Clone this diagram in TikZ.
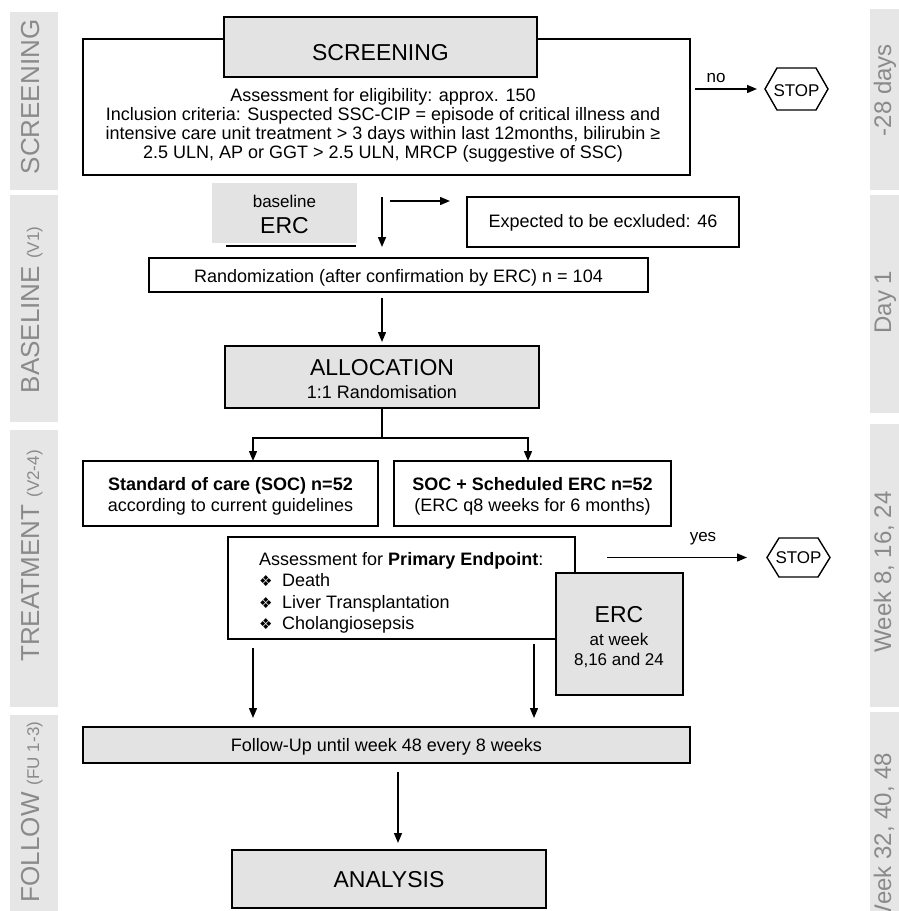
\documentclass[tikz,border=0pt]{standalone}
\usepackage{fontspec}
\setmainfont{Liberation Sans}
\newfontfamily\dejavu{DejaVu Sans}
\usetikzlibrary{arrows.meta}
\definecolor{boxgray}{HTML}{E3E3E3}
\definecolor{bandgray}{HTML}{E6E6E6}
\definecolor{labgray}{HTML}{8A8A8A}
\newcommand\bulitem{\makebox[23pt][l]{\dejavu\fontsize{15}{15}\selectfont ❖}}
\newcommand\smalllab[1]{{\fontsize{17}{17}\selectfont #1}}
\newcommand\myhexa[1]{\draw[ln] (#1.west) -- ([xshift=12pt]#1.north west) -- ([xshift=-12pt]#1.north east) -- (#1.east) -- ([xshift=-12pt]#1.south east) -- ([xshift=12pt]#1.south west) -- cycle;}
\tikzset{
  bx/.style={draw=black, line width=1.5pt, inner sep=0pt, outer sep=0pt},
  gbx/.style={bx, fill=boxgray},
  arr/.style={line width=1.4pt, -{Triangle[length=10pt,width=8pt]}},
  ln/.style={line width=1.4pt},
  blab/.style={text=labgray, rotate=90, anchor=base, inner sep=0pt, font=\fontsize{26}{30}\selectfont},
  rlab/.style={blab, font=\fontsize{24}{28}\selectfont},
  tx/.style={anchor=base, inner sep=0pt},
  f18/.style={font=\fontsize{18}{21.5}\selectfont},
  f17/.style={font=\fontsize{17}{20}\selectfont},
  f23/.style={font=\fontsize{23}{27}\selectfont},
}
\begin{document}
\begin{tikzpicture}[x=1pt,y=-1pt]
\useasboundingbox (0,0) rectangle (899,911);
\clip (0,0) rectangle (899,911);
\fill[white] (0,0) rectangle (899,911);
% side bands
\fill[bandgray] (10,12) rectangle (58,190);
\fill[bandgray] (10,195) rectangle (58,422);
\fill[bandgray] (10,430) rectangle (58,707);
\fill[bandgray] (10,715) rectangle (58,920);
\fill[bandgray] (870,9) rectangle (905,190);
\fill[bandgray] (870,195) rectangle (905,413);
\fill[bandgray] (870,424) rectangle (905,707);
\fill[bandgray] (870,712) rectangle (905,920);
\node[blab] at (39,97) {SCREENING};
\node[blab] at (39,310) {BASELINE \smalllab{(V1)}};
\node[blab] at (39,556) {TREATMENT \smalllab{(V2-4)}};
\node[blab] at (39,812) {FOLLOW \smalllab{(FU 1-3)}};
\node[rlab] at (891,90) {-28 days};
\node[rlab] at (891,302) {Day 1};
\node[rlab] at (891,572) {Week 8, 16, 24};
\node[rlab] at (891,840) {Week 32, 40, 48};
% screening
\node[bx, minimum width=607pt, minimum height=136pt] (scr) at (386.5,107) {};
\node[gbx, minimum width=313pt, minimum height=60pt] (scrt) at (380.5,47) {};
\node[tx,f23] at (380.5,60) {SCREENING};
\node[inner sep=0pt, anchor=north, align=center, font=\fontsize{18}{19}\selectfont] (scrtext) at (383,88)
  {Assessment for eligibility: approx. 150\\
   Inclusion criteria: Suspected SSC-CIP = episode of critical illness and\\
   intensive care unit treatment > 3 days within last 12months, bilirubin ≥\\
   2.5 ULN, AP or GGT > 2.5 ULN, MRCP (suggestive of SSC)};
\node[inner sep=0pt, outer sep=0pt, minimum width=63pt, minimum height=42pt] (stop1) at (796.5,89) {};
\myhexa{stop1}
\node[tx,f17] at (796.5,96) {STOP};
\node[tx,f17] at (716,82) {no};
\draw[arr, shorten <=5pt, shorten >=8pt] (scr.east |- stop1) -- (stop1.west);
% baseline
\node[fill=boxgray, inner sep=0pt, outer sep=0pt, minimum width=145pt, minimum height=60pt] (berc) at (284.5,213) {};
\node[tx,f17] at (284.5,207) {baseline};
\node[tx,f23] at (284.5,233) {ERC};
\draw[ln] ([xshift=14pt,yshift=-3pt]berc.south west) -- ([xshift=-1pt,yshift=-3pt]berc.south east);
\node[bx, minimum width=272pt, minimum height=50pt] (excl) at (603,222) {};
\node[tx,f18] at (603,227) {Expected to be ecxluded: 46};
\node[bx, minimum width=499pt, minimum height=34pt] (rand) at (398.5,275) {};
\node[tx,f18] at (398.5,282) {Randomization (after confirmation by ERC) n = 104};
\node[gbx, minimum width=314pt, minimum height=62pt] (alloc) at (382,377) {};
\node[tx,f23] at (382,375) {ALLOCATION};
\node[tx,f18] at (382,398) {1:1 Randomisation};
\coordinate (bs) at (390,201);
\draw[arr, shorten <=22pt, shorten >=11pt] (scr.south -| alloc) -- (rand.north -| alloc);
\draw[arr, shorten >=17pt] (bs) -- (bs -| excl.west);
\draw[arr, shorten <=6pt, shorten >=4pt] (rand.south -| alloc) -- (alloc.north);
% treatment
\node[bx, minimum width=295pt, minimum height=65pt] (soc) at (230.5,493.5) {};
\node[tx,f18] at (230.5,490) {\textbf{Standard of care (SOC) n=52}};
\node[tx,f18] at (230.5,511) {according to current guidelines};
\node[bx, minimum width=277pt, minimum height=65pt] (socerc) at (532.5,493.5) {};
\node[tx,f18] at (532.5,490) {\textbf{SOC + Scheduled ERC n=52}};
\node[tx,f18] at (532.5,511) {(ERC q8 weeks for 6 months)};
\coordinate (split) at (382,438);
\coordinate (sl) at (253,438);
\coordinate (sr) at (528,438);
\draw[ln] (alloc.south) -- (split);
\draw[arr] (split) -| (sl |- soc.north);
\draw[arr] (split) -| (sr |- socerc.north);
\node[bx, minimum width=347pt, minimum height=102pt] (assess) at (401.5,588) {};
\node[inner sep=0pt, anchor=north west, align=left, font=\fontsize{18}{21.5}\selectfont] (asstext) at (259,552)
  {Assessment for \textbf{Primary Endpoint}:\\
   \bulitem Death\\
   \bulitem Liver Transplantation\\
   \bulitem Cholangiosepsis};
\node[gbx, minimum width=127pt, minimum height=122pt] (ercw) at (619.5,634) {};
\node[tx,f23] at (619,622) {ERC};
\node[tx,f17] at (619,645) {at week};
\node[tx,f17] at (619,665) {8,16 and 24};
\node[inner sep=0pt, outer sep=0pt, minimum width=63pt, minimum height=39pt] (stop2) at (798.5,557.5) {};
\myhexa{stop2}
\node[tx,f17] at (798.5,563) {STOP};
\node[tx,f17] at (703,541) {yes};
\draw[arr, shorten <=32pt, shorten >=20pt] (assess.east |- stop2) -- (stop2.west);
% follow
\node[gbx, minimum width=607pt, minimum height=36pt] (fu) at (386.5,745) {};
\node[tx,f18] at (386.5,751) {Follow-Up until week 48 every 8 weeks};
\node[gbx, minimum width=314pt, minimum height=58pt] (ana) at (389,879) {};
\node[tx,f23] at (389,887) {ANALYSIS};
\coordinate (al) at (253,700);
\coordinate (ar) at (534,700);
\coordinate (fa) at (398,800);
\draw[arr, shorten <=9pt, shorten >=9pt] (assess.south -| al) -- (fu.north -| al);
\draw[arr, shorten <=5pt, shorten >=9pt] (assess.south -| ar) -- (fu.north -| ar);
\draw[arr, shorten <=9pt, shorten >=7pt] (fu.south -| fa) -- (ana.north -| fa);
\end{tikzpicture}
\end{document}
